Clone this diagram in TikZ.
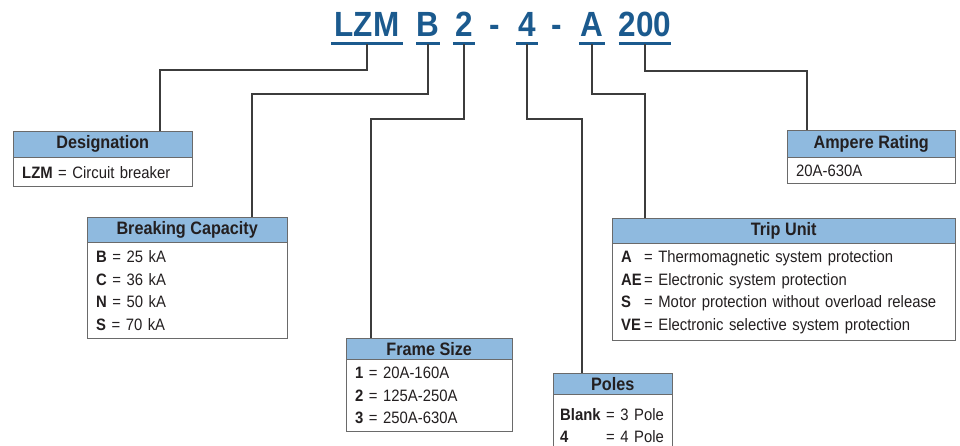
\documentclass[tikz,border=0pt]{standalone}
\usepackage{fontspec}
\setmainfont{Liberation Sans}[FakeStretch=0.9]
\usepackage{tikz}
\usetikzlibrary{positioning}
\definecolor{codeblue}{HTML}{1B5A8E}
\definecolor{hdrblue}{HTML}{8FBADF}
\definecolor{edgegray}{HTML}{6A6A6A}
\definecolor{inkdark}{HTML}{231F20}
\definecolor{leadgray}{HTML}{3C3C3C}

\begin{document}
\begin{tikzpicture}[
    x=1pt, y=-1pt,
    code/.style={font=\bfseries\fontsize{35}{40}\selectfont, text=codeblue,
                 inner sep=0pt, anchor=base},
    uline/.style={draw=codeblue, line width=3pt},
    lead/.style={draw=leadgray, line width=1.1pt},
    hdr/.style={draw=edgegray, fill=hdrblue, text=inkdark, anchor=north west,
                font=\bfseries\fontsize{18}{20}\selectfont, inner sep=0pt},
    body/.style={draw=edgegray, fill=white, text=inkdark, anchor=north west,
                 align=left, font=\fontsize{16.5}{22.7}\selectfont,
                 inner xsep=9pt, inner ysep=0pt}
  ]
  \useasboundingbox (0,0) rectangle (960,445);

  % order code
  \node[code, minimum width=72pt] (cLZM) at (367,36) {LZM};
  \node[code, minimum width=23pt] (cB) at (428,36) {B};
  \node[code, minimum width=22pt] (cFrm) at (464,36) {2};
  \node[code] (d1) at (495,36) {-};
  \node[code, minimum width=22pt] (cPol) at (527,36) {4};
  \node[code] (d2) at (557,36) {-};
  \node[code, minimum width=26pt] (cA) at (592,36) {A};
  \node[code, minimum width=50pt] (cAmp) at (645,36) {200};
  \foreach \c in {cLZM,cB,cFrm,cPol,cA,cAmp}
    \draw[uline] ([yshift=-7pt]\c.base west) -- ([yshift=-7pt]\c.base east);

  % boxes
  \node[hdr, minimum width=179pt, minimum height=26pt] (desH) at (13,131) {Designation};
  \node[body, text width=161pt, minimum height=29pt] (desB) at (desH.south west)
    {\textbf{LZM} = Circuit breaker};

  \node[hdr, minimum width=200pt, minimum height=25pt] (brkH) at (87,217) {Breaking Capacity};
  \node[body, text width=182pt, minimum height=96pt] (brkB) at (brkH.south west)
    {\textbf{B} = 25 kA\\ \textbf{C} = 36 kA\\ \textbf{N} = 50 kA\\ \textbf{S} = 70 kA};

  \node[hdr, minimum width=166pt, minimum height=21pt] (frmH) at (346,338) {Frame Size};
  \node[body, text width=148pt, minimum height=72pt] (frmB) at (frmH.south west)
    {\textbf{1} = 20A-160A\\ \textbf{2} = 125A-250A\\ \textbf{3} = 250A-630A};

  \node[hdr, minimum width=119pt, minimum height=21pt] (polH) at (553,373) {Poles};
  \node[body, text width=105pt, inner xsep=7pt, minimum height=62pt] (polB) at (polH.south west)
    {\makebox[46pt][l]{\textbf{Blank}}= 3 Pole\\ \makebox[46pt][l]{\textbf{4}}= 4 Pole};

  \node[hdr, minimum width=343pt, minimum height=25pt] (tripH) at (612,218) {Trip Unit};
  \node[body, text width=325pt, minimum height=97pt] (tripB) at (tripH.south west)
    {\makebox[23pt][l]{\textbf{A}}= Thermomagnetic system protection\\
     \makebox[23pt][l]{\textbf{AE}}= Electronic system protection\\
     \makebox[23pt][l]{\textbf{S}}= Motor protection without overload release\\
     \makebox[23pt][l]{\textbf{VE}}= Electronic selective system protection};

  \node[hdr, minimum width=168pt, minimum height=27pt] (ampH) at (787,130) {Ampere Rating};
  \node[body, text width=150pt, minimum height=26pt] (ampB) at (ampH.south west)
    {20A-630A};

  % leads
  \draw[lead] ([yshift=-8pt]cLZM.base) -- ++(0,26) -| ([xshift=147pt]desH.north west);
  \draw[lead] ([yshift=-8pt]cB.base) -- ++(0,50) -| ([xshift=165pt]brkH.north west);
  \draw[lead] ([yshift=-8pt]cFrm.base) -- ++(0,75) -| ([xshift=25pt]frmH.north west);
  \draw[lead] ([yshift=-8pt]cPol.base) -- ++(0,75) -| ([xshift=29pt]polH.north west);
  \draw[lead] ([yshift=-8pt]cA.base) -- ++(0,50) -| ([xshift=33pt]tripH.north west);
  \draw[lead] ([yshift=-8pt]cAmp.base) -- ++(0,27) -| ([xshift=20pt]ampH.north west);
\end{tikzpicture}
\end{document}
